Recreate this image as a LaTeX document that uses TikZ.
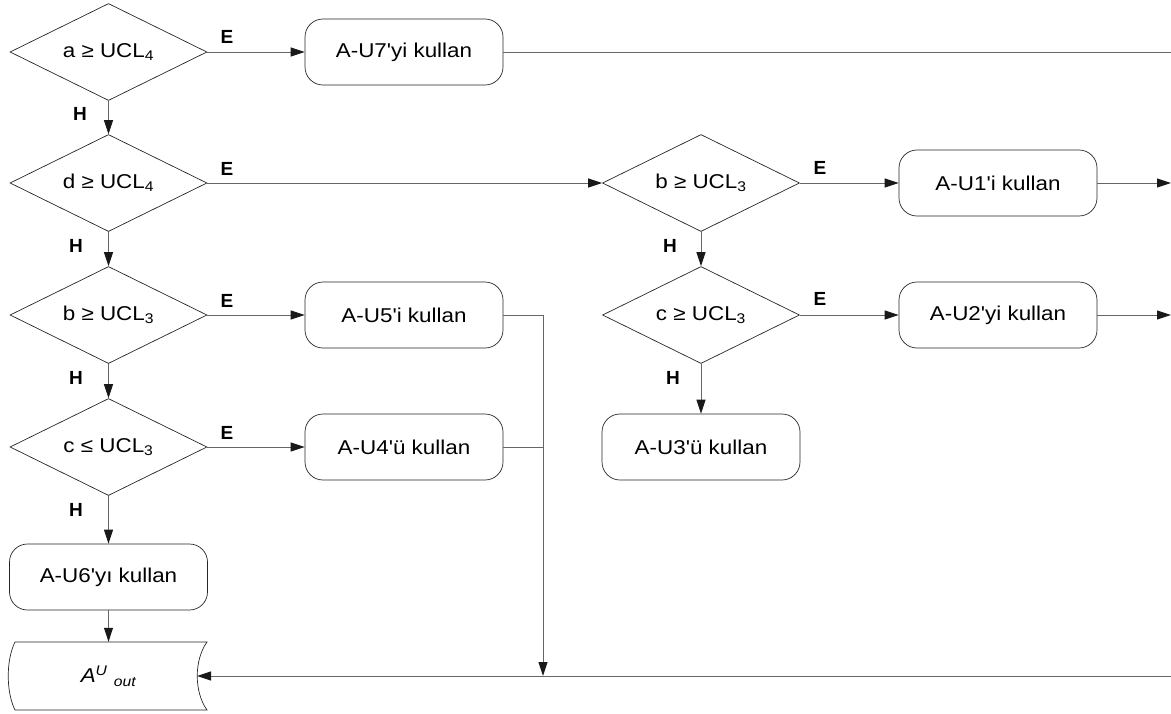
\documentclass[tikz,border=0pt]{standalone}
\usepackage{fontspec}
\setmainfont{Liberation Sans}
\usetikzlibrary{shapes.geometric,arrows.meta}
\newcommand\T[1]{\scalebox{1.12}[1]{#1}}
\newcommand\q{\textquotesingle}
\begin{document}
\begin{tikzpicture}[x=1pt,y=-1pt,
  txt/.style={font=\fontsize{20}{23}\selectfont},
  dec/.style={diamond, aspect=2, draw=black!85, line width=0.7pt, minimum width=197pt, minimum height=97pt, inner sep=0pt, txt},
  proc/.style={rectangle, rounded corners=18pt, draw=black!85, line width=0.7pt, minimum width=198pt, minimum height=66pt, inner sep=0pt, txt},
  conn/.style={draw=black!60, line width=1pt, -{Triangle[length=14pt,width=9pt,color=black!90]}},
  plain/.style={draw=black!60, line width=1pt},
  lbl/.style={font=\bfseries\fontsize{19}{22}\selectfont}]
\useasboundingbox (0,0) rectangle (1171,713);
% decisions
\node[dec] (d1) at (108.5,52) {\T{a ≥ UCL\textsubscript{4}}};
\node[dec] (d2) at (108.5,183) {\T{d ≥ UCL\textsubscript{4}}};
\node[dec] (d3) at (108.5,315) {\T{b ≥ UCL\textsubscript{3}}};
\node[dec] (d4) at (108.5,447) {\T{c ≤ UCL\textsubscript{3}}};
\node[dec] (rb) at (701,183) {\T{b ≥ UCL\textsubscript{3}}};
\node[dec] (rc) at (701,315) {\T{c ≥ UCL\textsubscript{3}}};
% processes
\node[proc] (u7) at (404,52) {\T{A-U7\q yi kullan}};
\node[proc] (u5) at (404,315) {\T{A-U5\q i kullan}};
\node[proc] (u4) at (404,447) {\T{A-U4\q ü kullan}};
\node[proc] (u6) at (108.5,577) {\T{A-U6\q yı kullan}};
\node[proc] (u1) at (998,183) {\T{A-U1\q i kullan}};
\node[proc] (u2) at (998,315) {\T{A-U2\q yi kullan}};
\node[proc] (u3) at (701,447) {\T{A-U3\q ü kullan}};
% output (stored data)
\node[minimum width=198pt, minimum height=68pt, inner sep=0pt, txt] (aout) at (108.5,676) {\T{\itshape A\textsuperscript{U} \textsubscript{out}}};
\draw[draw=black!85, line width=0.7pt] (15,642) -- (207,642) .. controls (194,660) and (194,692) .. (207,710) -- (15,710) .. controls (6,692) and (6,660) .. (15,642) -- cycle;
\coordinate (aoutR) at (197,676);
% free ends
\coordinate (eT) at (1171,52);
\coordinate (eU1) at (1171,183);
\coordinate (eU2) at (1171,315);
\coordinate (eB) at (1171,676);
\coordinate (j) at (543,676);
% connectors
\draw[conn] (d1) -- (d2);
\draw[conn] (d2) -- (d3);
\draw[conn] (d3) -- (d4);
\draw[conn] (d4) -- (u6);
\draw[conn] (u6) -- (aout.north);
\draw[conn] (d1) -- (u7);
\draw[conn] (d2) -- (rb);
\draw[conn] (d3) -- (u5);
\draw[conn] (d4) -- (u4);
\draw[conn] (rb) -- (u1);
\draw[conn] (rb) -- (rc);
\draw[conn] (rc) -- (u2);
\draw[conn] (rc) -- (u3);
\draw[plain] (u7) -- (eT);
\draw[conn] (u1) -- (eU1);
\draw[conn] (u2) -- (eU2);
\draw[conn] (eB) -- (aoutR);
\draw[conn] (u5.east) -| (j);
\draw[plain] (u4.east) -- (u4.east -| j);
% labels
\node[lbl] (e1) at (227,37) {E};
\node[lbl] (e2) at (227,169) {E};
\node[lbl] (e3) at (227,301) {E};
\node[lbl] (e4) at (227,433) {E};
\node[lbl] (e5) at (820,168) {E};
\node[lbl] (e6) at (820,299) {E};
\node[lbl] (h1) at (80,114) {H};
\node[lbl] (h2) at (76,246) {H};
\node[lbl] (h3) at (76,378) {H};
\node[lbl] (h4) at (76,510) {H};
\node[lbl] (h5) at (670,246) {H};
\node[lbl] (h6) at (673,378) {H};
\end{tikzpicture}
\end{document}
